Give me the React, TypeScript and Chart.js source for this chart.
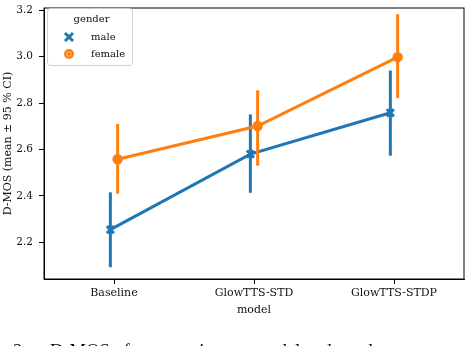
import React, { useEffect, useRef } from 'react';
import { Chart, registerables } from 'chart.js';

Chart.register(...registerables);

const categories = ['Baseline', 'GlowTTS-STD', 'GlowTTS-STDP'];
const seriesNames = ['male', 'female'];
const maleMean = [2.254, 2.58, 2.758];
const maleLow = [2.092, 2.413, 2.573];
const maleHigh = [2.415, 2.751, 2.94];
const femaleMean = [2.558, 2.701, 2.998];
const femaleLow = [2.409, 2.53, 2.822];
const femaleHigh = [2.71, 2.855, 3.183];
const yTicks = [2.2, 2.4, 2.6, 2.8, 3.0, 3.2];
const legendTitle = 'gender';
const xTitle = 'model';
const yTitle = 'D-MOS (mean ± 95 % CI)';
const captionNumber = '2.';
const captionText = 'D-MOS of every voice per model and gender';

const BLUE = '#1f77b4';
const ORANGE = '#ff7f0e';
const FONT = "'DejaVu Serif', serif";
const TEXT = '#111';
const DODGE = 0.026;

const framePlugin = {
  id: 'frame',
  afterDraw(chart: any) {
    const { ctx, chartArea: a } = chart;
    ctx.save();
    ctx.strokeStyle = '#000';
    ctx.lineWidth = 1;
    ctx.strokeRect(a.left, a.top, a.right - a.left, a.bottom - a.top);
    ctx.restore();
  },
};

const legendPlugin = {
  id: 'boxLegend',
  afterDraw(chart: any) {
    const ctx = chart.ctx;
    const x0 = 47.5, y0 = 8.5, w = 85, h = 57, r = 3;
    ctx.save();
    ctx.beginPath();
    ctx.moveTo(x0 + r, y0);
    ctx.arcTo(x0 + w, y0, x0 + w, y0 + h, r);
    ctx.arcTo(x0 + w, y0 + h, x0, y0 + h, r);
    ctx.arcTo(x0, y0 + h, x0, y0, r);
    ctx.arcTo(x0, y0, x0 + w, y0, r);
    ctx.closePath();
    ctx.fillStyle = 'rgba(255,255,255,0.8)';
    ctx.fill();
    ctx.strokeStyle = 'rgba(204,204,204,0.9)';
    ctx.lineWidth = 1;
    ctx.stroke();

    ctx.fillStyle = TEXT;
    ctx.font = `10px ${FONT}`;
    ctx.textAlign = 'center';
    ctx.textBaseline = 'middle';
    ctx.fillText(legendTitle, 91.5, 19);

    // male marker (x)
    ctx.strokeStyle = BLUE;
    ctx.lineWidth = 3;
    ctx.beginPath();
    ctx.moveTo(65, 33); ctx.lineTo(73, 41);
    ctx.moveTo(73, 33); ctx.lineTo(65, 41);
    ctx.stroke();
    // female marker (o)
    ctx.fillStyle = ORANGE;
    ctx.beginPath();
    ctx.arc(69, 54, 5, 0, Math.PI * 2);
    ctx.fill();
    ctx.strokeStyle = 'rgba(255,255,255,0.6)';
    ctx.lineWidth = 0.8;
    ctx.beginPath();
    ctx.arc(69, 54, 2.3, 0, Math.PI * 2);
    ctx.stroke();

    ctx.fillStyle = TEXT;
    ctx.textAlign = 'left';
    ctx.fillText(seriesNames[0], 91, 37);
    ctx.fillText(seriesNames[1], 91, 54);
    ctx.restore();
  },
};

function errDatasets(low: number[], high: number[], offset: number, color: string, order: number) {
  return categories.map((_, i) => ({
    label: 'err',
    data: [
      { x: i + offset, y: low[i] },
      { x: i + offset, y: high[i] },
    ],
    showLine: true,
    borderColor: color,
    borderWidth: 3,
    pointRadius: 0,
    borderCapStyle: 'butt',
    order,
  }));
}

const zeroPad = (s: any) => {
  s.paddingTop = 0;
  s.paddingBottom = 0;
  s.paddingLeft = 0;
  s.paddingRight = 0;
};

export default function App() {
  const ref = useRef<HTMLCanvasElement>(null);

  useEffect(() => {
    const canvas = ref.current!;
    const chart = new Chart(canvas, {
      type: 'scatter',
      data: {
        datasets: [
          {
            label: seriesNames[1],
            data: categories.map((_, i) => ({ x: i + DODGE, y: femaleMean[i] })),
            showLine: true,
            borderColor: ORANGE,
            backgroundColor: ORANGE,
            borderWidth: 3,
            pointStyle: 'circle',
            pointRadius: 4.5,
            pointBorderWidth: 1.5,
            pointBorderColor: ORANGE,
            pointBackgroundColor: ORANGE,
            order: 0,
          },
          ...errDatasets(femaleLow, femaleHigh, DODGE, ORANGE, 1),
          {
            label: seriesNames[0],
            data: categories.map((_, i) => ({ x: i - DODGE, y: maleMean[i] })),
            showLine: true,
            borderColor: BLUE,
            backgroundColor: BLUE,
            borderWidth: 3,
            pointStyle: 'crossRot',
            pointRadius: 5,
            pointBorderWidth: 3,
            pointBorderColor: BLUE,
            order: 2,
          },
          ...errDatasets(maleLow, maleHigh, -DODGE, BLUE, 3),
        ] as any,
      },
      options: {
        animation: false,
        responsive: false,
        maintainAspectRatio: false,
        layout: { padding: { top: 6.7, right: 3, left: 0, bottom: 0 } },
        plugins: {
          legend: { display: false },
          tooltip: { enabled: false },
        },
        scales: {
          x: {
            type: 'linear',
            min: -0.5,
            max: 2.5,
            afterBuildTicks: (s: any) => {
              s.ticks = categories.map((_, i) => ({ value: i }));
            },
            afterFit: (s: any) => {
              s.height = 67;
              zeroPad(s);
            },
            ticks: {
              callback: (v: any) => categories[Math.round(Number(v))] ?? '',
              autoSkip: false,
              maxRotation: 0,
              color: TEXT,
              font: { family: FONT, size: 11 },
              padding: 3,
            },
            grid: { drawOnChartArea: false, tickLength: 5, color: '#000', tickWidth: 1 },
            border: { color: '#000', width: 1 },
            title: {
              display: true,
              text: xTitle,
              color: TEXT,
              font: { family: FONT, size: 11 },
              padding: { top: 0, bottom: 29.4 },
            },
          },
          y: {
            type: 'linear',
            min: 2.0412,
            max: 3.21,
            afterBuildTicks: (s: any) => {
              s.ticks = yTicks.map((v) => ({ value: v }));
            },
            afterFit: (s: any) => {
              s.width = 44;
              zeroPad(s);
            },
            ticks: {
              callback: (v: any) => Number(v).toFixed(1),
              color: TEXT,
              font: { family: FONT, size: 10.5 },
              padding: 6,
            },
            grid: { drawOnChartArea: false, tickLength: 5, color: '#000', tickWidth: 1 },
            border: { color: '#000', width: 1 },
            title: {
              display: true,
              text: yTitle,
              color: TEXT,
              font: { family: FONT, size: 11 },
              padding: { top: 1.5, bottom: 0 },
            },
          },
        },
      } as any,
      plugins: [framePlugin, legendPlugin],
    });
    return () => chart.destroy();
  }, []);

  const capStyle: React.CSSProperties = {
    position: 'absolute',
    top: 340.5,
    fontFamily: "'Liberation Serif', serif",
    fontSize: 18.6,
    lineHeight: '20px',
    whiteSpace: 'nowrap',
    color: '#000',
  };

  return (
    <div
      style={{
        position: 'absolute',
        left: 0,
        top: 0,
        width: 472,
        height: 346,
        overflow: 'hidden',
        background: '#fff',
      }}
    >
      <canvas ref={ref} width={472} height={346} style={{ display: 'block' }} />
      <div style={{ ...capStyle, left: 13 }}>{captionNumber}</div>
      <div style={{ ...capStyle, left: 50 }}>{captionText}</div>
    </div>
  );
}
